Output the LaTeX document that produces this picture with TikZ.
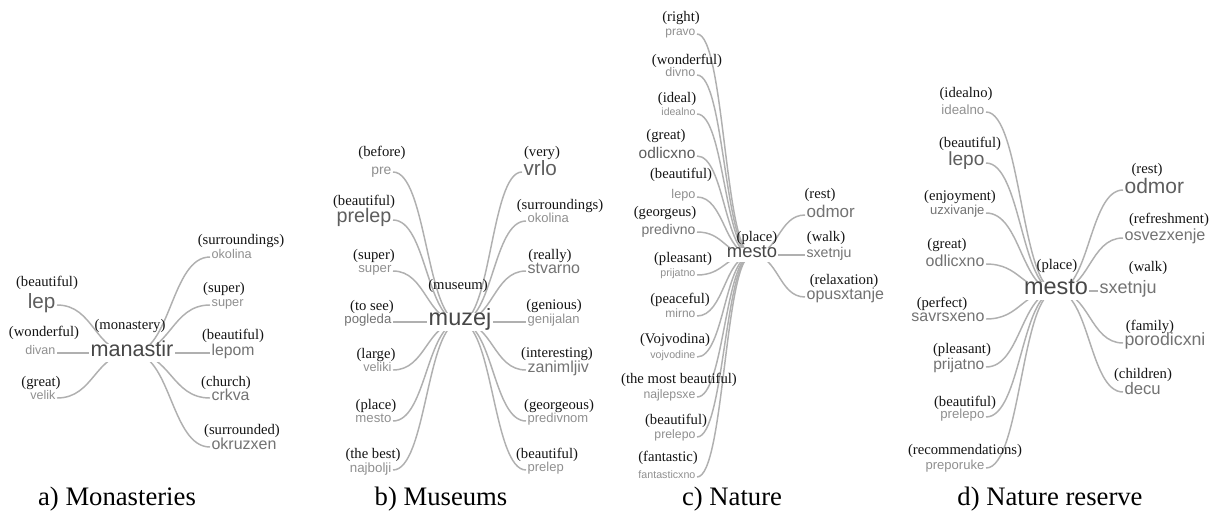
\documentclass[tikz,border=0pt]{standalone}
\usepackage{fontspec}
\setmainfont{Liberation Serif}
\newfontfamily\wf{Liberation Sans}
\usetikzlibrary{calc}
\definecolor{g1}{HTML}{5E5E5E}
\definecolor{g2}{HTML}{737373}
\definecolor{g3}{HTML}{909090}
\definecolor{rootc}{HTML}{474747}
\definecolor{ln}{HTML}{B0B0B0}
\definecolor{lblc}{HTML}{141414}
\newcommand\Wt[1]{\smash{#1}\rule[-0.22em]{0pt}{0.74em}}
\newcommand\mkleaf[7]{\node[wrd=#5, text=#6, anchor=#2] (#1) at (#3,#4) {\Wt{#7}};}
\newcommand\mkbr[2]{%
  \coordinate (mm) at ($(#1)!0.5!(#2)$);
  \draw[brl] (#1) .. controls (mm |- #1) and (mm |- #2) .. (#2);}
\tikzset{
  wrd/.style={font=\wf\fontsize{#1}{#1}\selectfont, inner xsep=1pt, inner ysep=0pt},
  rootw/.style={font=\wf\fontsize{#1}{#1}\selectfont, text=rootc, fill=white, inner xsep=1pt, inner ysep=0.5pt},
  lbl/.style={font=\fontsize{11}{12}\selectfont, text=lblc, inner sep=0pt, yshift=1.5pt},
  brl/.style={draw=ln, line width=1.1pt},
  captn/.style={font=\fontsize{20}{24}\selectfont, anchor=base, inner sep=0pt, text=black},
}
\begin{document}
\begin{tikzpicture}[x=0.75pt,y=-0.75pt]
\useasboundingbox (0,0) rectangle (1212,514);
\fill[white] (0,0) rectangle (1212,514);

% ---------------- panel a
\coordinate (ra) at (132,353);
\mkleaf{a1}{west}{210}{257}{9.5}{g3}{okolina}
\mkleaf{a2}{west}{210}{305}{9.6}{g3}{super}
\mkleaf{a3}{west}{210}{353}{11.8}{g2}{lepom}
\mkleaf{a4}{west}{210}{398}{11.9}{g2}{crkva}
\mkleaf{a5}{west}{210}{447}{12}{g2}{okruzxen}
\mkleaf{a6}{east}{57}{305}{15.5}{g1}{lep}
\mkleaf{a7}{east}{57}{353}{9.4}{g3}{divan}
\mkleaf{a8}{east}{57}{398}{9.4}{g3}{velik}
\foreach \n in {a1,a2,a3,a4,a5}{\mkbr{ra}{\n.west}}
\foreach \n in {a6,a7,a8}{\mkbr{ra}{\n.east}}
\node[rootw=16.2] (aroot) at (ra) {\Wt{manastir}};
\node[lbl] (la0) at (130,328) {(monastery)};
\node[lbl] (la1) at (241,243) {(surroundings)};
\node[lbl] (la2) at (224,291) {(super)};
\node[lbl] (la3) at (233,338) {(beautiful)};
\node[lbl] (la4) at (226,385) {(church)};
\node[lbl] (la5) at (242,433) {(surrounded)};
\node[lbl] (la6) at (47,285) {(beautiful)};
\node[lbl] (la7) at (44,335) {(wonderful)};
\node[lbl] (la8) at (41,385) {(great)};
\node[captn] (capa) at (117,505) {a) Monasteries};

% ---------------- panel b
\coordinate (rb) at (460,322);
\mkleaf{b1}{east}{393}{172}{10.4}{g3}{pre}
\mkleaf{b2}{east}{393}{220}{14.8}{g1}{prelep}
\mkleaf{b3}{east}{393}{271}{9.9}{g3}{super}
\mkleaf{b4}{east}{393}{322}{9.9}{g2}{pogleda}
\mkleaf{b5}{east}{393}{370}{9.5}{g3}{veliki}
\mkleaf{b6}{east}{393}{421}{9.9}{g3}{mesto}
\mkleaf{b7}{east}{393}{470}{10}{g3}{najbolji}
\mkleaf{b8}{west}{522}{172}{15.5}{g1}{vrlo}
\mkleaf{b9}{west}{526}{221}{9.75}{g3}{okolina}
\mkleaf{b10}{west}{526}{271}{12}{g2}{stvarno}
\mkleaf{b11}{west}{526}{322}{9.75}{g3}{genijalan}
\mkleaf{b12}{west}{526}{370}{12}{g2}{zanimljiv}
\mkleaf{b13}{west}{526}{421}{9.75}{g3}{predivnom}
\mkleaf{b14}{west}{526}{470}{9.75}{g3}{prelep}
\foreach \n in {b1,b2,b3,b4,b5,b6,b7}{\mkbr{rb}{\n.east}}
\foreach \n in {b8,b9,b10,b11,b12,b13,b14}{\mkbr{rb}{\n.west}}
\node[rootw=17.6] (broot) at (rb) {\Wt{muzej}};
\node[lbl] (lb0) at (458,288) {(museum)};
\node[lbl] (lb1) at (382,155) {(before)};
\node[lbl] (lb2) at (364,204) {(beautiful)};
\node[lbl] (lb3) at (374,258) {(super)};
\node[lbl] (lb4) at (372,309) {(to see)};
\node[lbl] (lb5) at (376,357) {(large)};
\node[lbl] (lb6) at (376,408) {(place)};
\node[lbl] (lb7) at (373,457) {(the best)};
\node[lbl] (lb8) at (542,155) {(very)};
\node[lbl] (lb9) at (560,208) {(surroundings)};
\node[lbl] (lb10) at (550,258) {(really)};
\node[lbl] (lb11) at (554,308) {(genious)};
\node[lbl] (lb12) at (557,356) {(interesting)};
\node[lbl] (lb13) at (559,408) {(georgeous)};
\node[lbl] (lb14) at (547,457) {(beautiful)};
\node[captn] (capb) at (441,505) {b) Museums};

% ---------------- panel c
\coordinate (rc) at (752,255);
\mkleaf{c1}{east}{697}{34}{9}{g3}{pravo}
\mkleaf{c2}{east}{697}{75}{9.4}{g3}{divno}
\mkleaf{c3}{east}{697}{114}{7.9}{g3}{idealno}
\mkleaf{c4}{east}{697}{156}{11.6}{g1}{odlicxno}
\mkleaf{c5}{east}{697}{197}{9.5}{g3}{lepo}
\mkleaf{c6}{east}{697}{232}{10.5}{g2}{predivno}
\mkleaf{c7}{east}{697}{275}{8}{g3}{prijatno}
\mkleaf{c8}{east}{697}{316}{9}{g3}{mirno}
\mkleaf{c9}{east}{697}{357}{8}{g3}{vojvodine}
\mkleaf{c10}{east}{697}{397}{9.2}{g3}{najlepsxe}
\mkleaf{c11}{east}{697}{437}{9.2}{g3}{prelepo}
\mkleaf{c12}{east}{697}{477}{8}{g3}{fantasticxno}
\mkleaf{c13}{west}{805}{215}{12.75}{g2}{odmor}
\mkleaf{c14}{west}{805}{255}{10.6}{g2}{sxetnju}
\mkleaf{c15}{west}{805}{297}{12}{g2}{opusxtanje}
\foreach \n in {c1,c2,c3,c4,c5,c6,c7,c8,c9,c10,c11,c12}{\mkbr{rc}{\n.east}}
\foreach \n in {c13,c14,c15}{\mkbr{rc}{\n.west}}
\node[rootw=13.8] (croot) at (rc) {\Wt{mesto}};
\node[lbl] (lc0) at (757,240) {(place)};
\node[lbl] (lc1) at (681,20) {(right)};
\node[lbl] (lc2) at (687,63) {(wonderful)};
\node[lbl] (lc3) at (677,101) {(ideal)};
\node[lbl] (lc4) at (666,138) {(great)};
\node[lbl] (lc5) at (681,177) {(beautiful)};
\node[lbl] (lc6) at (665,215) {(georgeus)};
\node[lbl] (lc7) at (683,261) {(pleasant)};
\node[lbl] (lc8) at (680,302) {(peaceful)};
\node[lbl] (lc9) at (675,342) {(Vojvodina)};
\node[lbl] (lc10) at (679,382) {(the most beautiful)};
\node[lbl] (lc11) at (676,423) {(beautiful)};
\node[lbl] (lc12) at (668,460) {(fantastic)};
\node[lbl] (lc13) at (820,197) {(rest)};
\node[lbl] (lc14) at (826,240) {(walk)};
\node[lbl] (lc15) at (844,283) {(relaxation)};
\node[captn] (capc) at (732,505) {c) Nature};

% ---------------- panel d
\coordinate (rd) at (1056,291);
\mkleaf{d1}{east}{986}{112}{10}{g3}{idealno}
\mkleaf{d2}{east}{986}{163}{14.3}{g1}{lepo}
\mkleaf{d3}{east}{986}{213}{9.75}{g2}{uzxivanje}
\mkleaf{d4}{east}{986}{264}{12}{g2}{odlicxno}
\mkleaf{d5}{east}{986}{319}{12}{g2}{savrsxeno}
\mkleaf{d6}{east}{986}{367}{11.7}{g2}{prijatno}
\mkleaf{d7}{east}{986}{417}{9.9}{g3}{prelepo}
\mkleaf{d8}{east}{986}{468}{9.8}{g3}{preporuke}
\mkleaf{d9}{west}{1123}{190}{15.75}{g1}{odmor}
\mkleaf{d10}{west}{1123}{238}{12.1}{g2}{osvezxenje}
\mkleaf{d11}{west}{1098}{291}{13.5}{g2}{sxetnju}
\mkleaf{d12}{west}{1123}{343}{13.3}{g2}{porodicxni}
\mkleaf{d13}{west}{1123}{392}{12.5}{g2}{decu}
\foreach \n in {d1,d2,d3,d4,d5,d6,d7,d8}{\mkbr{rd}{\n.east}}
\foreach \n in {d9,d10,d11,d12,d13}{\mkbr{rd}{\n.west}}
\node[rootw=17.6] (droot) at (rd) {\Wt{mesto}};
\node[lbl] (ld0) at (1057,268) {(place)};
\node[lbl] (ld1) at (966,96) {(idealno)};
\node[lbl] (ld2) at (970,146) {(beautiful)};
\node[lbl] (ld3) at (960,199) {(enjoyment)};
\node[lbl] (ld4) at (947,247) {(great)};
\node[lbl] (ld5) at (942,306) {(perfect)};
\node[lbl] (ld6) at (962,352) {(pleasant)};
\node[lbl] (ld7) at (965,405) {(beautiful)};
\node[lbl] (ld8) at (965,453) {(recommendations)};
\node[lbl] (ld9) at (1147,172) {(rest)};
\node[lbl] (ld10) at (1169,222) {(refreshment)};
\node[lbl] (ld11) at (1148,270) {(walk)};
\node[lbl] (ld12) at (1150,329) {(family)};
\node[lbl] (ld13) at (1143,377) {(children)};
\node[captn] (capd) at (1050,505) {d) Nature reserve};
\end{tikzpicture}
\end{document}
